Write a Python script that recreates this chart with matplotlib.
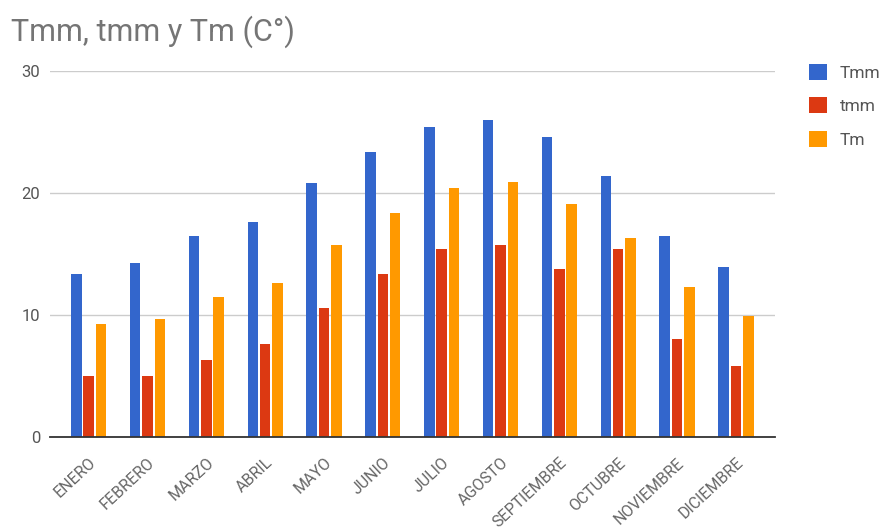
import numpy as np
import matplotlib
matplotlib.use('Agg')
import matplotlib.pyplot as plt
from matplotlib.patches import Patch

plt.rcParams['font.family'] = ['Roboto', 'DejaVu Sans']

meses = ['ENERO', 'FEBRERO', 'MARZO', 'ABRIL', 'MAYO', 'JUNIO', 'JULIO',
         'AGOSTO', 'SEPTIEMBRE', 'OCTUBRE', 'NOVIEMBRE', 'DICIEMBRE']
Tmm = [13.4, 14.3, 16.5, 17.6, 20.8, 23.4, 25.4, 26.0, 24.6, 21.4, 16.5, 13.9]
tmm = [5.0, 5.0, 6.3, 7.6, 10.6, 13.4, 15.4, 15.7, 13.8, 15.4, 8.0, 5.8]
Tm = [9.3, 9.7, 11.5, 12.6, 15.7, 18.4, 20.4, 20.9, 19.1, 16.3, 12.3, 9.9]

series = [('Tmm', Tmm, '#3366cc'), ('tmm', tmm, '#dc3912'), ('Tm', Tm, '#ff9900')]

fig = plt.figure(figsize=(8.81, 5.30), dpi=100)
ax = fig.add_axes([0.057, 0.1755, 0.823, 0.6905])

x = np.arange(len(meses))
ancho = 0.18
offsets = [-0.21, 0, 0.21]
for (nombre, vals, color), off in zip(series, offsets):
    ax.bar(x + off, vals, width=ancho, color=color, zorder=3)

ax.set_ylim(0, 30)
ax.set_xlim(-0.653, 11.67)
ax.set_yticks([0, 10, 20, 30])
ax.grid(axis='y', color='#cccccc', linewidth=1, zorder=0)
for s in ['top', 'right', 'left']:
    ax.spines[s].set_visible(False)
ax.spines['bottom'].set_color('#333333')
ax.spines['bottom'].set_linewidth(1.3)
ax.spines['bottom'].set_zorder(4)
ax.tick_params(axis='y', length=0, labelsize=12, labelcolor='#555555', pad=7)
ax.tick_params(axis='x', length=0, labelsize=11.5, labelcolor='#666666', pad=13)
ax.set_xticks(x)
ax.set_xticklabels(meses, rotation=43, ha='right', rotation_mode='anchor')

fig.text(0.012, 0.94, 'Tmm, tmm y Tm (C°)', fontsize=22, color='#757575',
         ha='left', va='center')

handles = [Patch(facecolor=c, label=n) for n, v, c in series]
fig.legend(handles=handles, loc='upper left', bbox_to_anchor=(0.9, 0.909),
           frameon=False, fontsize=12.5, handlelength=1.05, handleheight=1.05,
           labelspacing=0.95, handletextpad=0.75, labelcolor='#555555')

fig.savefig('out.png', dpi=100)
